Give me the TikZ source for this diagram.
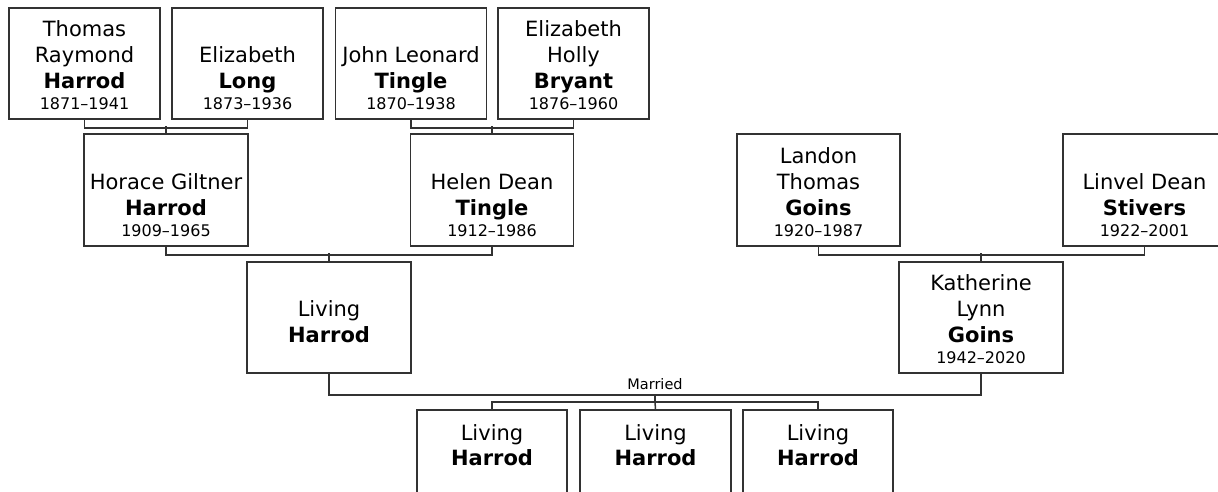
\documentclass[tikz,border=0pt]{standalone}
\usepackage{fontspec}
\setmainfont{DejaVu Sans}
\definecolor{linec}{RGB}{50,50,50}
\begin{document}
\begin{tikzpicture}[x=1pt,y=-1pt,
  pbox/.style={draw=linec, line width=1.5pt, fill=white, inner sep=0pt, minimum height=111pt},
  conn/.style={draw=linec, line width=1.5pt},
  given/.style={anchor=base, inner sep=0pt, font=\fontsize{21}{25}\selectfont},
  surname/.style={anchor=base, inner sep=0pt, font=\bfseries\fontsize{21}{25}\selectfont},
  years/.style={anchor=base, inner sep=0pt, font=\fontsize{16}{19}\selectfont},
  lbl/.style={anchor=base, inner sep=0pt, font=\fontsize{14.5}{17}\selectfont}]
\clip (0,0) rectangle (1218,491);
\fill[white] (0,0) rectangle (1218,491);

% ---- Row 1 (top 8, bottom 119)
\node[pbox, minimum width=151pt] (A) at (84.5,63.5) {};
\node[given]   (A1) at (84.5,36.4) {Thomas};
\node[given]   (A2) at (84.5,62.2) {Raymond};
\node[surname] (A3) at (84.5,88) {Harrod};
\node[years]   (A4) at (84.5,109.7) {1871–1941};

\node[pbox, minimum width=151pt] (B) at (247.5,63.5) {};
\node[given]   (B2) at (247.5,62.2) {Elizabeth};
\node[surname] (B3) at (247.5,88) {Long};
\node[years]   (B4) at (247.5,109.7) {1873–1936};

\node[pbox, minimum width=151pt] (C) at (411,63.5) {};
\node[given]   (C2) at (411,62.2) {John Leonard};
\node[surname] (C3) at (411,88) {Tingle};
\node[years]   (C4) at (411,109.7) {1870–1938};

\node[pbox, minimum width=151pt] (D) at (573.5,63.5) {};
\node[given]   (D1) at (573.5,36.4) {Elizabeth};
\node[given]   (D2) at (573.5,62.2) {Holly};
\node[surname] (D3) at (573.5,88) {Bryant};
\node[years]   (D4) at (573.5,109.7) {1876–1960};

% ---- Row 2 (top 134, bottom 246)
\node[pbox, minimum width=164pt, minimum height=112pt] (E) at (166,190) {};
\node[given]   (E2) at (166,189.2) {Horace Giltner};
\node[surname] (E3) at (166,215) {Harrod};
\node[years]   (E4) at (166,236.7) {1909–1965};

\node[pbox, minimum width=163pt, minimum height=112pt] (F) at (492,190) {};
\node[given]   (F2) at (492,189.2) {Helen Dean};
\node[surname] (F3) at (492,215) {Tingle};
\node[years]   (F4) at (492,236.7) {1912–1986};

\node[pbox, minimum width=163pt, minimum height=112pt] (G) at (818.5,190) {};
\node[given]   (G1) at (818.5,163.4) {Landon};
\node[given]   (G2) at (818.5,189.2) {Thomas};
\node[surname] (G3) at (818.5,215) {Goins};
\node[years]   (G4) at (818.5,236.7) {1920–1987};

\node[pbox, minimum width=163pt, minimum height=112pt] (H) at (1144.5,190) {};
\node[given]   (H2) at (1144.5,189.2) {Linvel Dean};
\node[surname] (H3) at (1144.5,215) {Stivers};
\node[years]   (H4) at (1144.5,236.7) {1922–2001};

% ---- Row 3 (top 262, bottom 373)
\node[pbox, minimum width=164pt] (I) at (329,317.5) {};
\node[given]   (I2) at (329,316.2) {Living};
\node[surname] (I3) at (329,342) {Harrod};

\node[pbox, minimum width=164pt] (J) at (981,317.5) {};
\node[given]   (J1) at (981,290.4) {Katherine};
\node[given]   (J2) at (981,316.2) {Lynn};
\node[surname] (J3) at (981,342) {Goins};
\node[years]   (J4) at (981,363.7) {1942–2020};

% ---- Children (top 410)
\node[pbox, minimum width=150pt] (K1) at (492,465.5) {};
\node[given]   (K1a) at (492,440) {Living};
\node[surname] (K1b) at (492,465.8) {Harrod};

\node[pbox, minimum width=151pt] (K2) at (655.5,465.5) {};
\node[given]   (K2a) at (655.5,440) {Living};
\node[surname] (K2b) at (655.5,465.8) {Harrod};

\node[pbox, minimum width=150pt] (K3) at (818,465.5) {};
\node[given]   (K3a) at (818,440) {Living};
\node[surname] (K3b) at (818,465.8) {Harrod};

% ---- Connectors
\draw[conn] (A.south) -- ++(0,8) -| (B.south);
\draw[conn] (E.north) -- ++(0,-7);
\draw[conn] (C.south) -- ++(0,8) -| (D.south);
\draw[conn] (F.north) -- ++(0,-7);

\draw[conn] (E.south) -- ++(0,8) -| (F.south);
\draw[conn] (I.north) -- ++(0,-8);
\draw[conn] (G.south) -- ++(0,8) -| (H.south);
\draw[conn] (J.north) -- ++(0,-8);

\draw[conn] (I.south) -- ++(0,21) coordinate (mL) -| (J.south);
\coordinate (mC) at (655,394);
\node[lbl] (married) at (655,389.3) {Married};
\draw[conn] (mC) -- (655,402) coordinate (cC);
\draw[conn] (K1.north) -- (K1.north |- cC) -- (K3.north |- cC) -- (K3.north);
\draw[conn] (cC) -- (K2.north);
\end{tikzpicture}
\end{document}
